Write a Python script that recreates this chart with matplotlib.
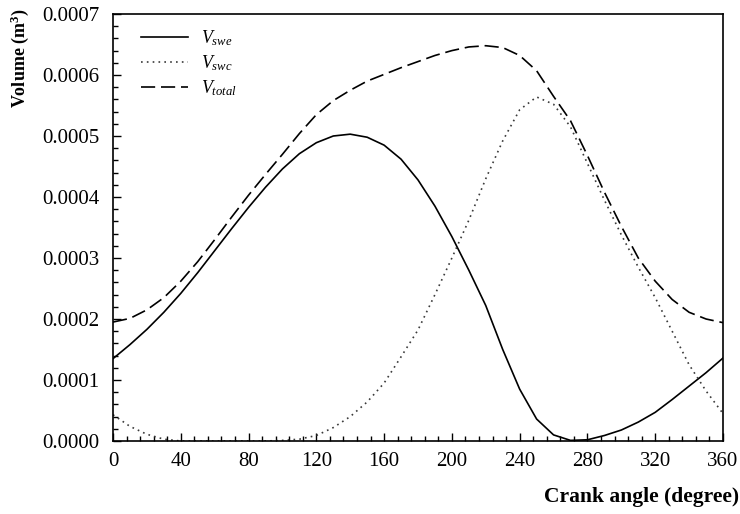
import matplotlib
matplotlib.use("Agg")
import matplotlib.pyplot as plt
from matplotlib.ticker import MultipleLocator, FormatStrFormatter

plt.rcParams['font.family'] = ['Liberation Serif', 'DejaVu Serif']
plt.rcParams['mathtext.fontset'] = 'custom'
plt.rcParams['mathtext.rm'] = 'Liberation Serif'
plt.rcParams['mathtext.it'] = 'Liberation Serif:italic'
plt.rcParams['mathtext.bf'] = 'Liberation Serif:bold'

angle = [0, 10, 20, 30, 40, 50, 60, 70, 80, 90, 100, 110, 120, 130, 140, 150, 160, 170, 180,
         190, 200, 210, 220, 230, 240, 250, 260, 270, 280, 290, 300, 310, 320, 330, 340, 350, 360]

v_swe = [0.000135, 0.000158, 0.000183, 0.000211, 0.000242, 0.000276, 0.000312, 0.000348, 0.000383,
         0.000416, 0.000446, 0.000471, 0.000489, 0.000500, 0.000503, 0.000498, 0.000485, 0.000462,
         0.000428, 0.000385, 0.000335, 0.000280, 0.000222, 0.000150, 0.000085, 0.000036, 0.000010,
         0.000001, 0.000002, 0.000009, 0.000018, 0.000031, 0.000047, 0.000068, 0.000090, 0.000112,
         0.000136]

v_swc = [0.000043, 0.000024, 0.000011, 0.000003, 0.000000, 0.000000, 0.000000, 0.000000, 0.000000,
         0.000000, 0.000001, 0.000003, 0.000009, 0.000022, 0.000040, 0.000064, 0.000095, 0.000138,
         0.000182, 0.000240, 0.000300, 0.000362, 0.000430, 0.000492, 0.000543, 0.000564, 0.000552,
         0.000515, 0.000455, 0.000395, 0.000338, 0.000285, 0.000235, 0.000180, 0.000125, 0.000082,
         0.000045]

v_total = [0.000195, 0.000201, 0.000215, 0.000235, 0.000262, 0.000294, 0.000330, 0.000367, 0.000403,
           0.000437, 0.000470, 0.000504, 0.000535, 0.000558, 0.000575, 0.000590, 0.000601, 0.000612,
           0.000622, 0.000632, 0.000640, 0.000646, 0.000648, 0.000645, 0.000632, 0.000607, 0.000565,
           0.000525, 0.000468, 0.000408, 0.000352, 0.000300, 0.000262, 0.000232, 0.000211, 0.000200,
           0.000194]

labels = [r'$V_{swe}$', r'$V_{swc}$', r'$V_{total}$']

fig = plt.figure(figsize=(7.4, 5.14), dpi=100)
ax = fig.add_axes([113/740, 1 - 441/514, 610/740, 427/514])

ax.plot(angle, v_swe, color='black', lw=1.2, label=labels[0])
ax.plot(angle, v_swc, color='#3a3a3a', lw=1.2, linestyle=(0, (1, 2.5)), label=labels[1])
ax.plot(angle, v_total, color='black', lw=1.2, linestyle=(0, (8.5, 3.5)), label=labels[2])

ax.set_xlim(0, 360)
ax.set_ylim(0, 0.0007)
ax.xaxis.set_major_locator(MultipleLocator(40))
ax.xaxis.set_minor_locator(MultipleLocator(8))
ax.yaxis.set_major_locator(MultipleLocator(0.0001))
ax.yaxis.set_minor_locator(MultipleLocator(0.00002))
ax.yaxis.set_major_formatter(FormatStrFormatter('%.4f'))
ax.tick_params(which='both', direction='in', top=False, right=False, labelsize=15)
ax.tick_params(which='major', length=6, width=1)
ax.tick_params(which='minor', length=3.5, width=1)
ax.tick_params(axis='x', pad=8)
ax.tick_params(axis='y', pad=10)
for s in ax.spines.values():
    s.set_linewidth(1.2)

fig.text(739/740, 1 - 497/514, 'Crank angle (degree)', fontsize=15.5, fontweight='bold',
         ha='right', va='center')
fig.text(20/740, 1 - 8/514, r'Volume (m$^\mathbf{3}$)', fontsize=13, fontweight='bold',
         rotation=90, ha='center', va='top')

ax.legend(loc='upper left', bbox_to_anchor=(0.02, 1.005), frameon=False, handlelength=2.6,
          fontsize=13, labelspacing=0.3, handletextpad=0.7)

fig.savefig('out.png', dpi=100)
